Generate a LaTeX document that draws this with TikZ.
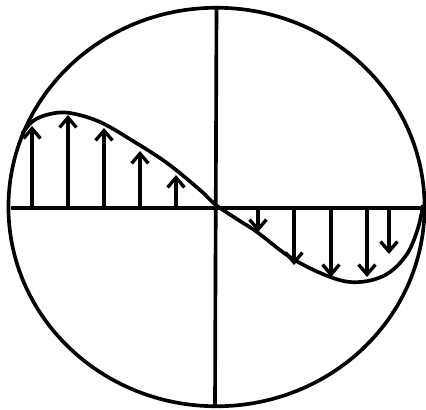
\documentclass[tikz,border=0pt]{standalone}
\usepackage{tikz}
\usetikzlibrary{arrows.meta}

\begin{document}
\begin{tikzpicture}[
  x=0.025cm, y=-0.025cm,
  outline/.style={line width=2.6pt, draw=black},
  axis/.style={line width=2.6pt, draw=black},
  profile/.style={line width=2.6pt, draw=black},
  vec/.style={line width=2.4pt, draw=black,
    -{Straight Barb[length=7pt, width=12pt, line width=2.4pt]}}
]
  \useasboundingbox (0,0) rectangle (426,409);

  % frame and axes
  \coordinate (o) at (216,208);
  \draw[outline] (216.5,207) ellipse [x radius=5.2cm, y radius=4.98cm];
  \coordinate (left) at (11,208);
  \coordinate (right) at (423,208);
  \coordinate (top) at (216.5,8);
  \coordinate (bottom) at (215,406);
  \draw[axis] (left) -- (right);
  \draw[axis] (top) -- (bottom);

  % velocity profile
  \draw[profile] plot[smooth, tension=0.6] coordinates {
    (22,134) (33,121) (50,114) (70,113) (100,122) (133,141) (167,163)
    (200,190) (216,205) (240,221) (257,232) (293,259) (333,278)
    (360,282) (387,274) (407,254) (418,228) (423,205)};

  % arrows, up on the left
  \coordinate (u1) at (32,126);
  \coordinate (u2) at (68,115);
  \coordinate (u3) at (104,128);
  \coordinate (u4) at (140,151);
  \coordinate (u5) at (176,175);
  \draw[vec] (u1 |- o) -- (u1);
  \draw[vec] (u2 |- o) -- (u2);
  \draw[vec] (u3 |- o) -- (u3);
  \draw[vec] (u4 |- o) -- (u4);
  \draw[vec] (u5 |- o) -- (u5);

  % arrows, down on the right
  \coordinate (d1) at (258,232);
  \coordinate (d2) at (294,265);
  \coordinate (d3) at (331,277);
  \coordinate (d4) at (367,277);
  \coordinate (d5) at (389,254);
  \draw[vec] (d1 |- o) -- (d1);
  \draw[vec] (d2 |- o) -- (d2);
  \draw[vec] (d3 |- o) -- (d3);
  \draw[vec] (d4 |- o) -- (d4);
  \draw[vec] (d5 |- o) -- (d5);
\end{tikzpicture}
\end{document}
